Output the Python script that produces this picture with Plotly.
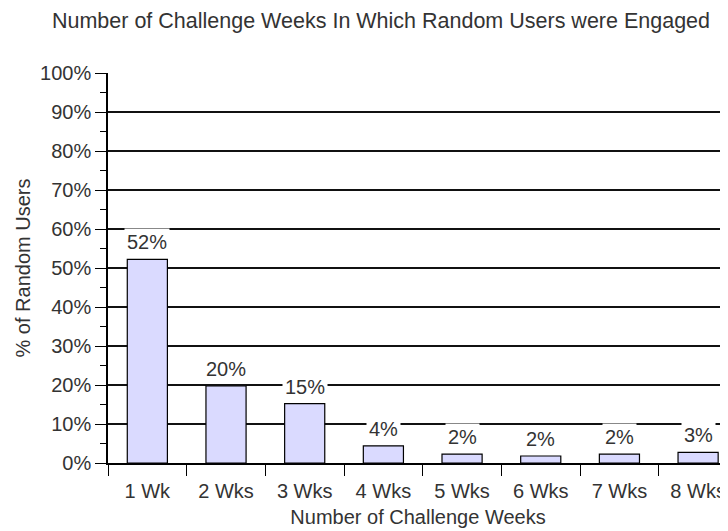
import plotly.graph_objects as go

# data
weeks = ["1 Wk", "2 Wks", "3 Wks", "4 Wks", "5 Wks", "6 Wks", "7 Wks", "8 Wks"]
pct_users = [52.2, 19.8, 15.2, 4.4, 2.3, 1.8, 2.3, 2.7]
pct_labels = ["52%", "20%", "15%", "4%", "2%", "2%", "2%", "3%"]

y_ticks = list(range(0, 101, 10))
y_tick_labels = [f"{v}%" for v in y_ticks]

FONT = "Liberation Sans, Arial, sans-serif"
TEXT_COLOR = "#333333"

# the html page body has an 8px margin, so the figure is sized to fit
FIG_W, FIG_H = 720, 523


def create_bar_chart():
    fig = go.Figure(
        go.Bar(
            x=weeks,
            y=pct_users,
            width=0.51,
            marker=dict(color="#dadaff", line=dict(color="black", width=1.2)),
            hoverinfo="skip",
        )
    )

    # value labels sit on a white box so they cut through the gridlines
    for wk, val, lab in zip(weeks, pct_users, pct_labels):
        fig.add_annotation(
            x=wk,
            y=val,
            text=lab,
            showarrow=False,
            yanchor="bottom",
            yshift=3,
            bgcolor="white",
            borderpad=2,
            font=dict(family=FONT, size=20, color=TEXT_COLOR),
        )

    fig.update_layout(
        width=FIG_W,
        height=FIG_H,
        margin=dict(l=100, r=0, t=65, b=68, autoexpand=False),
        plot_bgcolor="white",
        paper_bgcolor="white",
        showlegend=False,
        font=dict(family=FONT, size=20, color=TEXT_COLOR),
        title=dict(
            text="Number of Challenge Weeks In Which Random Users were Engaged",
            x=373 / FIG_W,
            xanchor="center",
            xref="container",
            y=1 - 12 / FIG_H,
            yanchor="middle",
            font=dict(family=FONT, size=21.5, color=TEXT_COLOR),
        ),
    )

    fig.update_xaxes(
        type="category",
        range=[-0.5, 7.38],
        automargin=False,
        tickson="boundaries",
        ticks="outside",
        ticklen=11,
        tickwidth=1.2,
        tickcolor="black",
        ticklabelstandoff=9,
        tickfont=dict(family=FONT, size=20, color=TEXT_COLOR),
        showline=True,
        linecolor="black",
        linewidth=1.5,
        showgrid=False,
        title=dict(text="Number of Challenge Weeks", standoff=9,
                   font=dict(family=FONT, size=20, color=TEXT_COLOR)),
    )

    fig.update_yaxes(
        range=[0, 100],
        automargin=False,
        tickvals=y_ticks,
        ticktext=y_tick_labels,
        ticks="outside",
        ticklen=11,
        tickwidth=1.2,
        tickcolor="black",
        tickfont=dict(family=FONT, size=20, color=TEXT_COLOR),
        showline=True,
        linecolor="black",
        linewidth=1.5,
        showgrid=True,
        gridcolor="#111111",
        gridwidth=1.5,
        zeroline=False,
        minor=dict(dtick=5, ticks="outside", ticklen=6, tickcolor="black",
                   tickwidth=1.2, showgrid=False),
        title=dict(text="% of Random Users", standoff=4,
                   font=dict(family=FONT, size=20, color=TEXT_COLOR)),
    )

    return fig


def main():
    fig = create_bar_chart()
    fig.write_html("out.html")


if __name__ == "__main__":
    main()
